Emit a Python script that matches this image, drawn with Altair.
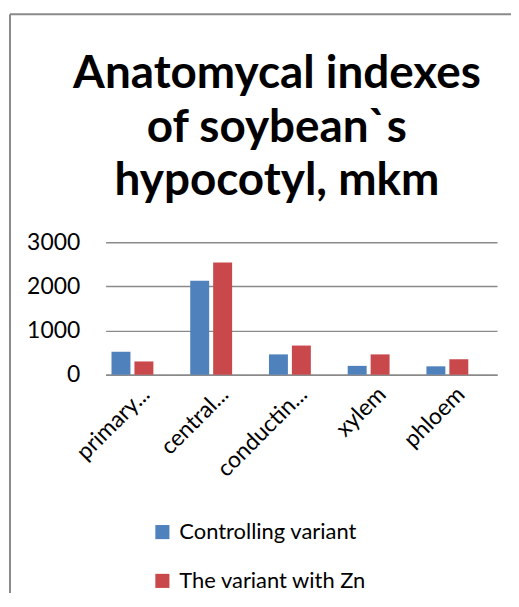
import altair as alt
import pandas as pd

categories = ["primary...", "central...", "conductin...", "xylem", "phloem"]
control = [520, 2130, 460, 200, 190]
zinc = [300, 2540, 660, 460, 350]
series = ["Controlling variant", "The variant with Zn"]
colors = ["#4F81BD", "#C8484B"]
title_lines = ["Anatomycal indexes", "of soybean`s", "hypocotyl, mkm"]

rows = []
for c, a, b in zip(categories, control, zinc):
    rows.append({"cat": c, "series": series[0], "value": a})
    rows.append({"cat": c, "series": series[1], "value": b})
df = pd.DataFrame(rows)

FONT = "Lato"

bars = alt.Chart(df).mark_bar().encode(
    x=alt.X("cat:N", sort=categories,
            scale=alt.Scale(paddingInner=0.468, paddingOuter=0.22, align=0.17),
            axis=alt.Axis(title=None, labelAngle=-45, labelAlign="right", labelBaseline="top",
                          labelFontSize=23, labelFont=FONT, labelColor="#000000",
                          ticks=False, domainColor="#8A8A8A", domainWidth=1.5,
                          labelPadding=8, labelOffset=6, labelLimit=200)),
    xOffset=alt.XOffset("series:N", sort=series,
                        scale=alt.Scale(paddingInner=0.174, paddingOuter=0)),
    y=alt.Y("value:Q", scale=alt.Scale(domain=[0, 3000]),
            axis=alt.Axis(title=None, values=[0, 1000, 2000, 3000], format="d", labelFontSize=23,
                          labelFont=FONT, labelColor="#000000", ticks=False, domain=False,
                          gridColor="#8A8A8A", gridWidth=1.5, labelPadding=26)),
    color=alt.Color("series:N", sort=series,
                    scale=alt.Scale(domain=series, range=colors),
                    legend=alt.Legend(title=None, orient="none", legendX=46, legendY=280,
                                      direction="vertical", symbolType="square",
                                      symbolSize=200, symbolStrokeWidth=0,
                                      labelFontSize=22, labelFont=FONT, labelColor="#000000",
                                      rowPadding=27, labelOffset=6, labelLimit=400)),
)

frame = pd.DataFrame({"a": [0]})
left_border = alt.Chart(frame).mark_rule(color="#8A8A8A", strokeWidth=2).encode(
    x=alt.value(-96), y=alt.value(-229), y2=alt.value(370))
top_border = alt.Chart(frame).mark_rule(color="#8A8A8A", strokeWidth=2).encode(
    x=alt.value(-96), x2=alt.value(420), y=alt.value(-229))
title = alt.Chart(frame).mark_text(
    text=title_lines, font=FONT, fontSize=46, fontWeight="bold", color="#000000",
    align="center", baseline="alphabetic", lineHeight=54,
).encode(x=alt.value(172), y=alt.value(-155))

chart = alt.layer(bars, left_border, top_border, title).properties(
    width=393, height=133,
    padding={"left": 98, "top": 234, "right": 14, "bottom": 218},
    autosize=alt.AutoSizeParams(type="none"),
    background="#FFFFFF",
).configure_view(strokeWidth=0)

chart.save("out.html", embed_options={"renderer": "svg", "actions": False})
